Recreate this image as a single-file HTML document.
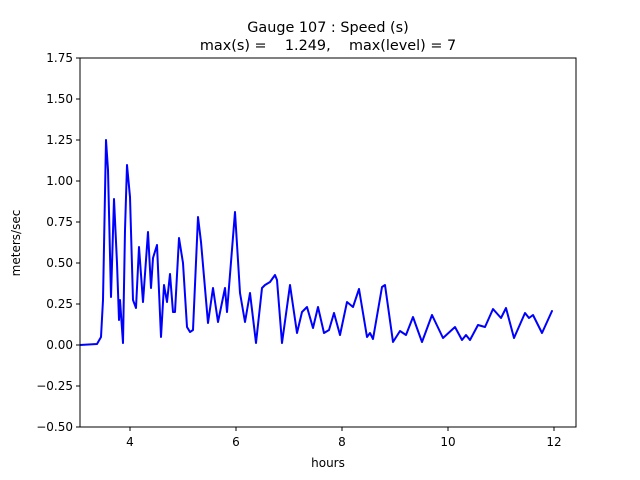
<!DOCTYPE html>
<html><head><style>body{margin:0;background:#fff}svg{display:block}text{font-family:"DejaVu Sans","Liberation Sans",sans-serif;fill:#000}</style></head>
<body>
<svg width="640" height="480" viewBox="0 0 640 480">
<rect width="640" height="480" fill="#fff"/>
<defs><clipPath id="c"><rect x="80" y="58" width="496" height="369"/></clipPath></defs>
<polyline id="ln" clip-path="url(#c)" fill="none" stroke="#0000ff" stroke-width="2" stroke-linejoin="round" stroke-linecap="round" points="80,345 97,344 101,337 103,300 106,140 108,170 111,297 114,199 117,263 119,320 120,300 123,343 125,230 127,165 130,197 133,300 136,308 139,247 143,302 148,232 151,288 153,258 157,245 161,337 164,285 167,302 170,274 173,312 175,312 179,238 183,263 187,327 190,332 193,330 198,217 201,242 208,323 213,288 218,322 225,288 227,312 235,212 240,293 245,322 250,293 256,343 262,288 265,285 270,282 275,275 277,280 282,343 290,285 297,333 302,312 307,307 313,328 318,307 324,333 329,330 334,313 340,335 347,302 353,307 359,289 367,337 370,333 373,339 382,287 385,285 393,342 400,331 406,335 413,317 418,331 422,342 432,315 443,338 455,327 462,340 466,335 470,340 478,325 485,327 493,309 501,318 506,308 514,338 525,313 529,318 533,315 542,333 552,311"/>
<path id="sm" clip-path="url(#c)" fill="none" stroke="#0000ff" stroke-width="2" stroke-linejoin="round" stroke-linecap="round" d=""/>
<script>
(function(){var l=document.getElementById('ln');var p=l.getAttribute('points').trim().split(/\s+/).map(function(s){return s.split(',').map(Number)});
var d='M'+p[0][0]+','+p[0][1];
for(var i=0;i<p.length-1;i++){var a=p[i-1]||p[i],b=p[i],c=p[i+1],e=p[i+2]||c;var t=0.5/3;
var c1x=b[0]+(c[0]-a[0])*t,c1y=b[1]+(c[1]-a[1])*t,c2x=c[0]-(e[0]-b[0])*t,c2y=c[1]-(e[1]-b[1])*t;
if(c1x<b[0])c1x=b[0];if(c1x>c[0])c1x=c[0];if(c2x<b[0])c2x=b[0];if(c2x>c[0])c2x=c[0];
d+=' C'+c1x.toFixed(1)+','+c1y.toFixed(1)+' '+c2x.toFixed(1)+','+c2y.toFixed(1)+' '+c[0]+','+c[1];}
document.getElementById('sm').setAttribute('d',d);l.setAttribute('stroke','none');})();
</script>
<rect x="80" y="58" width="496" height="369" fill="none" stroke="#000" stroke-width="1"/>
<g stroke="#000" stroke-width="1">
<line x1="130" y1="427" x2="130" y2="431"/><line x1="236" y1="427" x2="236" y2="431"/><line x1="342" y1="427" x2="342" y2="431"/><line x1="448" y1="427" x2="448" y2="431"/><line x1="554" y1="427" x2="554" y2="431"/>
<line x1="76" y1="58" x2="80" y2="58"/><line x1="76" y1="99" x2="80" y2="99"/><line x1="76" y1="140" x2="80" y2="140"/><line x1="76" y1="181" x2="80" y2="181"/><line x1="76" y1="222" x2="80" y2="222"/><line x1="76" y1="263" x2="80" y2="263"/><line x1="76" y1="304" x2="80" y2="304"/><line x1="76" y1="345" x2="80" y2="345"/><line x1="76" y1="386" x2="80" y2="386"/><line x1="76" y1="427" x2="80" y2="427"/>
</g>
<g font-size="12" text-anchor="middle">
<text x="130" y="446">4</text><text x="236" y="446">6</text><text x="342" y="446">8</text><text x="448" y="446">10</text><text x="554" y="446">12</text>
<text x="328" y="467">hours</text>
</g>
<g font-size="12" text-anchor="end">
<text x="73" y="62">1.75</text><text x="73" y="103">1.50</text><text x="73" y="144">1.25</text><text x="73" y="185">1.00</text><text x="73" y="226">0.75</text><text x="73" y="267">0.50</text><text x="73" y="308">0.25</text><text x="73" y="349">0.00</text><text x="73" y="390">−0.25</text><text x="73" y="431">−0.50</text>
</g>
<text x="20" y="243" font-size="12" text-anchor="middle" transform="rotate(-90 20 243)">meters/sec</text>
<g font-size="14.4" text-anchor="middle">
<text x="328" y="32">Gauge 107 : Speed (s)</text>
<text x="328" y="50" xml:space="preserve">max(s) =    1.249,    max(level) = 7</text>
</g>
</svg>
</body></html>
